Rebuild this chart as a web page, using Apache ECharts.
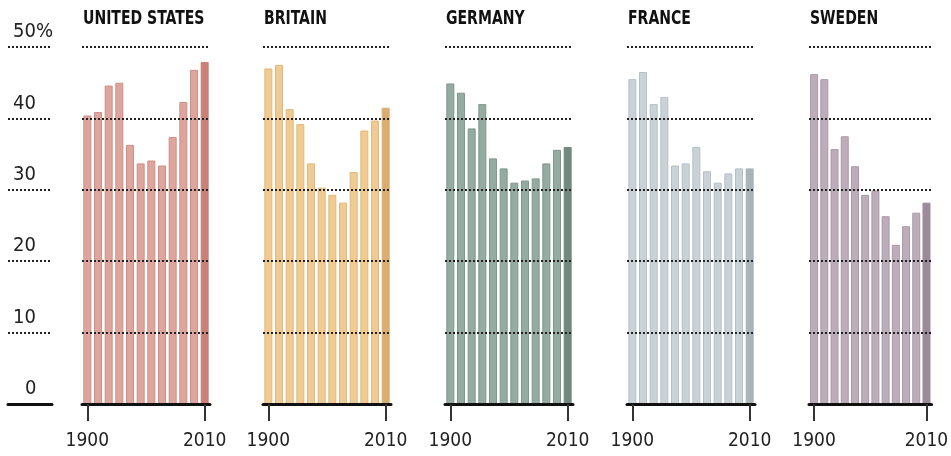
<!DOCTYPE html>
<html><head><meta charset="utf-8">
<script src="https://cdn.jsdelivr.net/npm/echarts@6/dist/echarts.min.js"></script>
<style>html,body{margin:0;padding:0;background:#fff}#c{width:951px;height:456px}</style>
</head><body><div id="c"></div>
<script>
const years = ['1900','1910','1920','1930','1940','1950','1960','1970','1980','1990','2000','2010'];
const countries = ['UNITED STATES','BRITAIN','GERMANY','FRANCE','SWEDEN'];
const us      = [40.4, 40.9, 44.6, 45.0, 36.3, 33.7, 34.1, 33.4, 37.4, 42.3, 46.8, 47.9];
const britain = [47.0, 47.5, 41.3, 39.2, 33.7, 30.3, 29.3, 28.2, 32.5, 38.3, 39.7, 41.5];
const germany = [44.9, 43.6, 38.6, 42.0, 34.4, 33.0, 31.0, 31.3, 31.6, 33.7, 35.6, 36.0];
const france  = [45.5, 46.5, 42.0, 43.0, 33.4, 33.7, 36.0, 32.6, 31.0, 32.3, 33.0, 33.0];
const sweden  = [46.2, 45.5, 35.7, 37.5, 33.3, 29.3, 29.9, 26.3, 22.3, 24.9, 26.8, 28.2];
const yTicks = [0, 10, 20, 30, 40, 50];

const seriesData = [us, britain, germany, france, sweden];
const lightColors = ['#dea59d', '#efca93', '#93ab a1'.replace(' ', ''), '#c8d2d7', '#bdadba'];
const darkColors  = ['#c98076', '#d9ae70', '#72897f', '#a8b4ba', '#9c8a9a'];
const edgeColors  = ['#cf9087', '#e2b87b', '#7f988d', '#b5c0c6', '#aa99a8'];

const panelLeft = [82, 263, 445, 627, 809];
const panelW = 128;
const gTop = 47, gHeight = 357;
const fontFam = '"DejaVu Sans Condensed", "Liberation Sans", sans-serif';
const dotted = {color: '#222', width: 2, type: [2, 2]};

const grids = [], xAxes = [], yAxes = [], series = [], texts = [];
grids.push({left: 8, width: 44, top: gTop, height: gHeight});
xAxes.push({gridIndex: 0, type: 'category', data: years, axisLine: {show: true, lineStyle: {color: '#111', width: 3}}, axisTick: {show: false}, axisLabel: {show: false}});
yAxes.push({gridIndex: 0, type: 'value', min: yTicks[0], max: yTicks[yTicks.length-1], interval: 10,
  axisLine: {show: false}, axisTick: {show: false},
  splitLine: {show: true, lineStyle: dotted},
  axisLabel: {inside: true, margin: 5, align: 'left', verticalAlign: 'bottom', padding: [0,0,5,0],
    color: '#222', fontSize: 20, fontFamily: fontFam,
    formatter: v => v === yTicks[yTicks.length-1] ? v + '%' : (v === 0 ? '{z|0}' : String(v)),
    rich: {z: {padding: [0,0,0,12], fontSize: 20, fontFamily: fontFam, color: '#222'}}}
});

countries.forEach((name, i) => {
  const gi = i + 1;
  grids.push({left: panelLeft[i], width: panelW, top: gTop, height: gHeight});
  const last = years.length - 1;
  xAxes.push({gridIndex: gi, type: 'category', data: years, z: 6,
    axisLine: {show: true, lineStyle: {color: '#111', width: 3}},
    axisTick: {show: true, alignWithLabel: true, length: 17, lineStyle: {color: '#333', width: 2},
      interval: (idx) => idx === 0 || idx === last},
    axisLabel: {interval: (idx) => idx === 0 || idx === last, margin: 28, color: '#222', fontSize: 19, fontFamily: fontFam}
  });
  yAxes.push({gridIndex: gi, type: 'value', min: 0, max: 50, interval: 10, z: 5,
    axisLine: {show: false}, axisTick: {show: false}, axisLabel: {show: false},
    splitLine: {show: true, lineStyle: dotted}
  });
  series.push({type: 'bar', xAxisIndex: gi, yAxisIndex: gi, barWidth: 8, z: 2,
    itemStyle: {color: lightColors[i], borderColor: edgeColors[i], borderWidth: 1},
    data: seriesData[i].map((v, k) => k === last ? {value: v, itemStyle: {color: darkColors[i], borderColor: darkColors[i]}} : v)
  });
  texts.push({type: 'text', x: panelLeft[i] + 1, y: 9, scaleX: 0.78,
    style: {text: name, fill: '#111', font: 'bold 20px ' + fontFam}});
});

const chart = echarts.init(document.getElementById('c'), null, {renderer: 'canvas'});
chart.setOption({animation: false, backgroundColor: '#fff', graphic: texts, grid: grids, xAxis: xAxes, yAxis: yAxes, series: series});
</script></body></html>
